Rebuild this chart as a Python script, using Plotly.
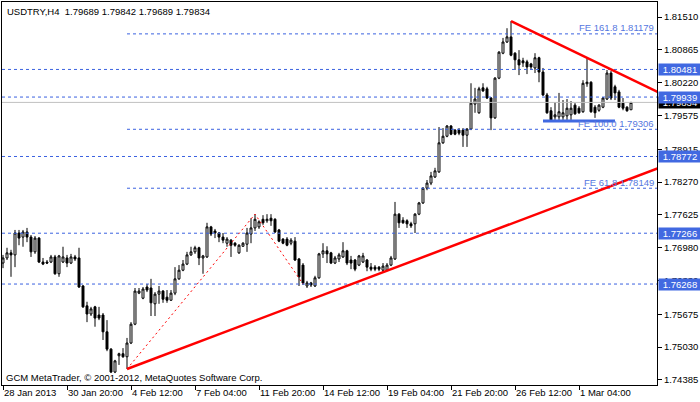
import plotly.graph_objects as go

# ---------------- data ----------------
bars = list(range(158))
opens = [
    1.7668, 1.7678, 1.7688, 1.7684, 1.7727, 1.7719, 1.7729, 1.7719, 1.7690, 1.7717,
    1.7670, 1.7670, 1.7670, 1.7680, 1.7647, 1.7670, 1.7678, 1.7668, 1.7680, 1.7678,
    1.7623, 1.7584, 1.7568, 1.7582, 1.7566, 1.7566, 1.7533, 1.7499, 1.7454, 1.7486,
    1.7490, 1.7484, 1.7511, 1.7548, 1.7609, 1.7599, 1.7621, 1.7619, 1.7588, 1.7607,
    1.7613, 1.7601, 1.7595, 1.7609, 1.7637, 1.7654, 1.7666, 1.7684, 1.7690, 1.7698,
    1.7678, 1.7680, 1.7739, 1.7731, 1.7727, 1.7719, 1.7707, 1.7713, 1.7707, 1.7688,
    1.7701, 1.7705, 1.7725, 1.7737, 1.7739, 1.7754, 1.7751, 1.7756, 1.7754, 1.7733,
    1.7715, 1.7715, 1.7707, 1.7711, 1.7676, 1.7664, 1.7623, 1.7629, 1.7623, 1.7639,
    1.7686, 1.7692, 1.7688, 1.7668, 1.7676, 1.7680, 1.7692, 1.7674, 1.7674, 1.7664,
    1.7670, 1.7674, 1.7660, 1.7660, 1.7660, 1.7654, 1.7654, 1.7664, 1.7676, 1.7764,
    1.7752, 1.7751, 1.7745, 1.7745, 1.7764, 1.7786, 1.7815, 1.7825, 1.7837, 1.7847,
    1.7904, 1.7917, 1.7937, 1.7929, 1.7929, 1.7929, 1.7919, 1.7931, 1.7980, 1.7963,
    1.8012, 1.8010, 1.7992, 1.7953, 1.8031, 1.8080, 1.8102, 1.8112, 1.8080, 1.8067,
    1.8065, 1.8063, 1.8059, 1.8051, 1.8071, 1.8043, 1.7998, 1.7967, 1.7955, 1.7955,
    1.7955, 1.7957, 1.7959, 1.7978, 1.7972, 1.7965, 1.8020, 1.8023, 1.7974, 1.7968,
    1.7974, 1.7990, 1.8041, 1.8014, 1.8004, 1.7982, 1.7974, 1.79689,
]
highs = [
    1.7684, 1.7698, 1.7694, 1.7733, 1.7733, 1.7733, 1.7737, 1.7723, 1.7721, 1.7719,
    1.7678, 1.7674, 1.7684, 1.7684, 1.7684, 1.7700, 1.7684, 1.7686, 1.7684, 1.7698,
    1.7625, 1.7592, 1.7582, 1.7584, 1.7582, 1.7570, 1.7556, 1.7501, 1.7478, 1.7492,
    1.7501, 1.7521, 1.7552, 1.7619, 1.7619, 1.7621, 1.7627, 1.7637, 1.7611, 1.7623,
    1.7615, 1.7615, 1.7615, 1.7660, 1.7664, 1.7674, 1.7690, 1.7700, 1.7702, 1.7700,
    1.7684, 1.7747, 1.7741, 1.7735, 1.7729, 1.7727, 1.7719, 1.7715, 1.7709, 1.7705,
    1.7709, 1.7737, 1.7756, 1.7764, 1.7752, 1.7762, 1.7764, 1.7764, 1.7756, 1.7735,
    1.7717, 1.7719, 1.7717, 1.7719, 1.7678, 1.7668, 1.7633, 1.7631, 1.7643, 1.7688,
    1.7707, 1.7701, 1.7690, 1.7682, 1.7688, 1.7709, 1.7694, 1.7682, 1.7676, 1.7684,
    1.7688, 1.7676, 1.7668, 1.7664, 1.7662, 1.7668, 1.7668, 1.7682, 1.7788, 1.7766,
    1.7758, 1.7754, 1.7749, 1.7766, 1.7788, 1.7817, 1.7831, 1.7847, 1.7855, 1.7935,
    1.7933, 1.7939, 1.7939, 1.7931, 1.7933, 1.7933, 1.7933, 1.8021, 1.8012, 1.8014,
    1.8021, 1.8014, 1.7994, 1.8033, 1.8084, 1.8110, 1.8129, 1.8143, 1.8082, 1.8086,
    1.8071, 1.8067, 1.8061, 1.8080, 1.8073, 1.8051, 1.8002, 1.7974, 1.7984, 1.8002,
    1.7988, 1.7990, 1.7986, 1.7982, 1.7976, 1.8027, 1.8071, 1.8025, 1.7978, 1.7980,
    1.7994, 1.8047, 1.8045, 1.8018, 1.8008, 1.7992, 1.7976, 1.79842,
]
lows = [
    1.7658, 1.7674, 1.7641, 1.7660, 1.7703, 1.7700, 1.7709, 1.7680, 1.7686, 1.7668,
    1.7664, 1.7666, 1.7668, 1.7645, 1.7641, 1.7668, 1.7660, 1.7666, 1.7672, 1.7619,
    1.7580, 1.7552, 1.7564, 1.7543, 1.7556, 1.7517, 1.7495, 1.7452, 1.7452, 1.7468,
    1.7482, 1.7460, 1.7509, 1.7546, 1.7607, 1.7597, 1.7611, 1.7564, 1.7564, 1.7588,
    1.7590, 1.7590, 1.7594, 1.7605, 1.7635, 1.7652, 1.7664, 1.7682, 1.7686, 1.7664,
    1.7647, 1.7678, 1.7721, 1.7717, 1.7709, 1.7707, 1.7700, 1.7680, 1.7700, 1.7686,
    1.7700, 1.7690, 1.7707, 1.7731, 1.7735, 1.7743, 1.7747, 1.7741, 1.7727, 1.7709,
    1.7705, 1.7701, 1.7703, 1.7672, 1.7623, 1.7625, 1.7619, 1.7621, 1.7621, 1.7637,
    1.7678, 1.7668, 1.7666, 1.7666, 1.7670, 1.7678, 1.7664, 1.7656, 1.7652, 1.7662,
    1.7668, 1.7652, 1.7652, 1.7652, 1.7652, 1.7650, 1.7652, 1.7662, 1.7674, 1.7737,
    1.7745, 1.7737, 1.7737, 1.7727, 1.7762, 1.7784, 1.7811, 1.7821, 1.7835, 1.7845,
    1.7902, 1.7915, 1.7919, 1.7919, 1.7919, 1.7896, 1.7896, 1.7929, 1.7963, 1.7961,
    1.8004, 1.7990, 1.7929, 1.7951, 1.8029, 1.8078, 1.8100, 1.8074, 1.8047, 1.8037,
    1.8053, 1.8039, 1.8047, 1.8041, 1.8023, 1.7996, 1.7961, 1.7947, 1.7949, 1.7949,
    1.7949, 1.7949, 1.7949, 1.7959, 1.7961, 1.7963, 1.8014, 1.7963, 1.7953, 1.7965,
    1.7972, 1.7988, 1.7988, 1.7988, 1.7972, 1.7968, 1.7965, 1.79689,
]
closes = [
    1.7678, 1.7688, 1.7684, 1.7727, 1.7717, 1.7729, 1.7719, 1.7690, 1.7717, 1.7670,
    1.7666, 1.7668, 1.7680, 1.7647, 1.7682, 1.7680, 1.7668, 1.7680, 1.7676, 1.7621,
    1.7582, 1.7568, 1.7578, 1.7560, 1.7560, 1.7533, 1.7499, 1.7454, 1.7476, 1.7490,
    1.7484, 1.7511, 1.7548, 1.7613, 1.7613, 1.7617, 1.7615, 1.7590, 1.7607, 1.7613,
    1.7597, 1.7595, 1.7609, 1.7637, 1.7654, 1.7666, 1.7684, 1.7690, 1.7698, 1.7678,
    1.7682, 1.7739, 1.7725, 1.7727, 1.7719, 1.7713, 1.7715, 1.7703, 1.7703, 1.7703,
    1.7707, 1.7727, 1.7737, 1.7754, 1.7749, 1.7747, 1.7754, 1.7751, 1.7729, 1.7711,
    1.7707, 1.7703, 1.7713, 1.7674, 1.7641, 1.7629, 1.7629, 1.7625, 1.7639, 1.7686,
    1.7692, 1.7686, 1.7668, 1.7678, 1.7684, 1.7692, 1.7668, 1.7668, 1.7656, 1.7682,
    1.7682, 1.7660, 1.7656, 1.7656, 1.7656, 1.7662, 1.7664, 1.7678, 1.7764, 1.7747,
    1.7747, 1.7745, 1.7741, 1.7764, 1.7786, 1.7815, 1.7825, 1.7839, 1.7849, 1.7904,
    1.7917, 1.7937, 1.7921, 1.7921, 1.7923, 1.7919, 1.7931, 1.7982, 1.7990, 1.8010,
    1.8006, 1.7992, 1.7953, 1.8031, 1.8082, 1.8102, 1.8112, 1.8076, 1.8067, 1.8057,
    1.8061, 1.8053, 1.8053, 1.8071, 1.8043, 1.7998, 1.7963, 1.7949, 1.7959, 1.7965,
    1.7963, 1.7972, 1.7972, 1.7961, 1.7963, 1.8021, 1.8023, 1.7965, 1.7963, 1.7978,
    1.7992, 1.8041, 1.7992, 1.8002, 1.7974, 1.7972, 1.7967, 1.79834,
]

x_tick_bars = [0, 16, 32, 48, 64, 80, 96, 112, 128, 144]
x_tick_labels = ["28 Jan 2013", "30 Jan 20:00", "4 Feb 12:00", "7 Feb 04:00",
                 "11 Feb 20:00", "14 Feb 12:00", "19 Feb 04:00", "21 Feb 20:00",
                 "26 Feb 12:00", "1 Mar 04:00"]
y_tick_vals = [1.81510, 1.80865, 1.80220, 1.79575, 1.78915, 1.78270, 1.77625,
               1.76980, 1.76330, 1.75675, 1.75030, 1.74385]

h_levels = [1.80481, 1.79939, 1.78772, 1.77266, 1.76268]
bid_price = 1.79834

fe_ratios = ["61.8", "100.0", "161.8"]
fe_values = [1.78149, 1.79306, 1.81179]
fe_start_bar = 31

fib_pts_x = [31, 63, 75]
fib_pts_y = [1.7460, 1.7764, 1.7627]

trend_up_x = [31, 95]
trend_up_y = [1.7460, 1.7650]
trend_dn_x = [127, 146]
trend_dn_y = [1.8143, 1.8071]

support_x = [135, 153]
support_y = 1.7947

title_text = "USDTRY,H4\u00a0\u00a01.79689 1.79842 1.79689 1.79834"
copyright_text = "GCM MetaTrader, \u00a9 2001-2012, MetaQuotes Software Corp."

# ---------------- figure ----------------
X_MIN, X_MAX = -0.25, 163.5
Y_MIN, Y_MAX = 1.74286, 1.81805
FONT = "Liberation Sans"
FS = 9.5
BLUE = "#3b62e0"
BOX_BLUE = "#4169E1"

fig = go.Figure()

def ray(xs, ys, x_end):
    slope = (ys[1] - ys[0]) / (xs[1] - xs[0])
    return [xs[0], x_end], [ys[0], ys[0] + slope * (x_end - xs[0])]

# bid line
fig.add_trace(go.Scatter(x=[X_MIN, X_MAX], y=[bid_price, bid_price], mode="lines",
                         line=dict(color="#c0c0c0", width=1), hoverinfo="skip"))
# horizontal dashed levels
for v in h_levels:
    fig.add_trace(go.Scatter(x=[X_MIN, X_MAX], y=[v, v], mode="lines",
                             line=dict(color=BLUE, width=1, dash="3px,3px"), hoverinfo="skip"))
for v in fe_values:
    fig.add_trace(go.Scatter(x=[fe_start_bar, X_MAX], y=[v, v], mode="lines",
                             line=dict(color=BLUE, width=1, dash="3px,3px"), hoverinfo="skip"))

# candles
fig.add_trace(go.Candlestick(
    x=bars, open=opens, high=highs, low=lows, close=closes,
    increasing=dict(line=dict(color="black", width=1), fillcolor="white"),
    decreasing=dict(line=dict(color="black", width=1), fillcolor="black"),
    whiskerwidth=0, hoverinfo="skip",
))

# fib expansion dotted red
fig.add_trace(go.Scatter(x=fib_pts_x, y=fib_pts_y, mode="lines",
                         line=dict(color="red", width=1, dash="2px,3px"), hoverinfo="skip"))
# trend lines
ux, uy = ray(trend_up_x, trend_up_y, X_MAX + 2)
fig.add_trace(go.Scatter(x=ux, y=uy, mode="lines", line=dict(color="red", width=2.5),
                         hoverinfo="skip"))
dx, dy = ray(trend_dn_x, trend_dn_y, X_MAX + 2)
fig.add_trace(go.Scatter(x=dx, y=dy, mode="lines", line=dict(color="red", width=2.5),
                         hoverinfo="skip"))
# support line
fig.add_trace(go.Scatter(x=support_x, y=[support_y, support_y], mode="lines",
                         line=dict(color=BOX_BLUE, width=3), hoverinfo="skip"))

annotations = []
# FE labels
for r, v in zip(fe_ratios, fe_values):
    annotations.append(dict(xref="paper", x=1, xanchor="right", xshift=-1,
                            yref="y", y=v, yanchor="middle", yshift=6,
                            text=f"FE {r} {v:.5f}", showarrow=False,
                            font=dict(family=FONT, size=FS, color="#5577e0")))
# bid price box (first, so level boxes overlay it)
annotations.append(dict(xref="paper", x=1, xanchor="left", xshift=1,
                        yref="y", y=bid_price, yanchor="middle",
                        text=f"{bid_price:.5f}", showarrow=False, bgcolor="black",
                        width=42, height=11, borderpad=0,
                        font=dict(family=FONT, size=FS, color="white")))
for v in h_levels:
    annotations.append(dict(xref="paper", x=1, xanchor="left", xshift=1,
                            yref="y", y=v, yanchor="middle",
                            text=f"{v:.5f}", showarrow=False, bgcolor=BOX_BLUE,
                            width=42, height=11, borderpad=0,
                            font=dict(family=FONT, size=FS, color="white")))
# x labels
for b, t in zip(x_tick_bars, x_tick_labels):
    annotations.append(dict(xref="x", x=b, xanchor="left", xshift=0,
                            yref="paper", y=0, yanchor="top", yshift=-1,
                            text=t, showarrow=False, borderpad=0,
                            font=dict(family=FONT, size=FS, color="black")))
# title and copyright
annotations.append(dict(xref="paper", x=0, xanchor="left", xshift=4,
                        yref="paper", y=1, yanchor="top", yshift=-3,
                        text=title_text, showarrow=False, borderpad=0,
                        font=dict(family=FONT, size=FS, color="black")))
annotations.append(dict(xref="paper", x=0, xanchor="left", xshift=3,
                        yref="paper", y=0, yanchor="bottom", yshift=1,
                        text=copyright_text, showarrow=False, borderpad=0,
                        font=dict(family=FONT, size=FS, color="black")))

fig.update_layout(
    width=700, height=402,
    margin=dict(l=2, r=43, t=2, b=17),
    paper_bgcolor="white", plot_bgcolor="white",
    showlegend=False,
    annotations=annotations,
    xaxis=dict(range=[X_MIN, X_MAX], rangeslider=dict(visible=False),
               tickvals=x_tick_bars, showticklabels=False, ticks="outside",
               ticklen=4, tickcolor="black", showgrid=False, zeroline=False,
               showline=True, mirror=True, linecolor="black", linewidth=1,
               fixedrange=True),
    yaxis=dict(range=[Y_MIN, Y_MAX], side="right", tickvals=y_tick_vals,
               ticktext=[f"{v:.5f}" for v in y_tick_vals], ticks="outside",
               ticklen=4, tickcolor="black", showgrid=False, zeroline=False,
               showline=True, mirror=True, linecolor="black", linewidth=1,
               tickfont=dict(family=FONT, size=FS, color="black"),
               fixedrange=True),
)

fig.write_html("out.html", config={"displayModeBar": False},
               post_script="document.body.style.margin='0px';document.body.style.overflow='hidden';")
